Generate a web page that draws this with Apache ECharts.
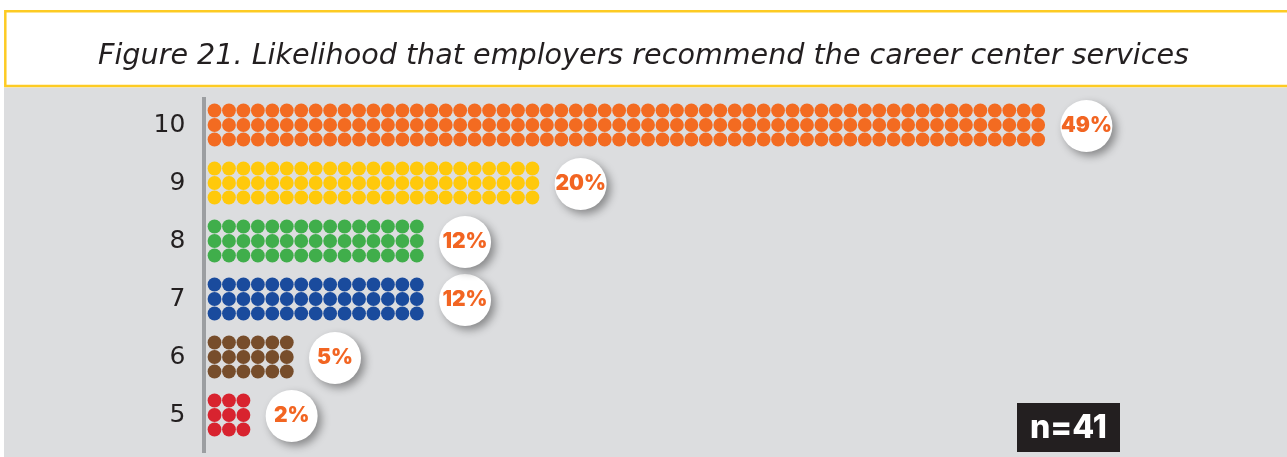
<!DOCTYPE html>
<html><head><meta charset="utf-8">
<script src="https://cdn.jsdelivr.net/npm/echarts@6/dist/echarts.min.js"></script>
<style>html,body{margin:0;padding:0;background:#fff}#c{width:1287px;height:457px}</style>
</head><body><div id="c"></div>
<script>
// ---- data ----
const categories = ['5', '6', '7', '8', '9', '10'];
const dotColumns = [3, 6, 15, 15, 23, 58];
const percents = [2, 5, 12, 12, 20, 49];
const dotColors = ['#d8232f', '#774d2b', '#1a4b9d', '#40ae4b', '#ffc90b', '#f36b21'];
const titleText = 'Figure 21. Likelihood that employers recommend the career center services';
const sampleLabel = 'n=41';
const dotRowOffsets = [-14.5, 0, 14.5];

// ---- chart ----
const chart = echarts.init(document.getElementById('c'), null, { renderer: 'canvas' });
const PITCH = 14.45, DOT = 13.8, XMAX = 70;

const dotSeries = dotRowOffsets.map(off => ({
  type: 'pictorialBar',
  symbol: 'circle',
  symbolSize: DOT,
  symbolRepeat: true,
  symbolMargin: ((PITCH - DOT) / 2) + '!',
  symbolOffset: [0, off],
  barGap: '-100%',
  barWidth: 50,
  silent: true,
  animation: false,
  z: 3,
  data: dotColumns.map((v, k) => ({ value: v, itemStyle: { color: dotColors[k] } }))
}));

const labelSeries = {
  type: 'scatter',
  symbol: 'circle',
  symbolSize: 52,
  symbolOffset: [41, 1],
  silent: true,
  animation: false,
  z: 4,
  itemStyle: { color: '#ffffff', opacity: 1, shadowColor: 'rgba(0,0,0,0.38)', shadowBlur: 9, shadowOffsetX: 4, shadowOffsetY: 4 },
  label: {
    show: true, position: 'inside',
    formatter: p => percents[p.dataIndex] + '%',
    color: '#f26522', fontSize: 21, fontWeight: 900, fontFamily: 'Inter, Lato, sans-serif'
  },
  data: dotColumns.map((v, k) => [v, categories[k]])
};

chart.setOption({
  animation: false,
  backgroundColor: '#ffffff',
  title: {
    text: titleText, left: 'center', top: 37,
    textStyle: { fontStyle: 'italic', fontWeight: 400, fontSize: 28.6, color: '#231f20', fontFamily: '"DejaVu Sans", sans-serif' }
  },
  grid: { left: 207.3, top: 96, width: PITCH * XMAX, height: 348, containLabel: false },
  xAxis: { type: 'value', min: 0, max: XMAX, show: false },
  yAxis: {
    type: 'category', data: categories,
    axisLine: { show: false }, axisTick: { show: false }, splitLine: { show: false },
    axisLabel: { margin: 22, fontSize: 25, color: '#231f20', fontFamily: '"DejaVu Sans", sans-serif', fontWeight: 400 }
  },
  graphic: [
    { type: 'rect', z: -10, shape: { x: 4, y: 87.5, width: 1290, height: 380 }, style: { fill: '#dcdddf' } },
    { type: 'rect', z: -9, shape: { x: 5.3, y: 11.2, width: 1290, height: 74.8 }, style: { fill: '#ffffff', stroke: '#fdcb23', lineWidth: 2.5 } },
    { type: 'line', z: 5, shape: { x1: 204, y1: 97, x2: 204, y2: 453 }, style: { stroke: '#9c9ea1', lineWidth: 4 } },
    { type: 'group', z: 5, children: [
      { type: 'rect', shape: { x: 1017, y: 403, width: 103, height: 49 }, style: { fill: '#231f20' } },
      { type: 'text', x: 1068.5, y: 428, style: { text: sampleLabel, fill: '#ffffff', fontSize: 32, fontWeight: 800, fontFamily: 'Inter, Lato, sans-serif', align: 'center', verticalAlign: 'middle' } }
    ] }
  ],
  series: [...dotSeries, labelSeries]
});
</script>
</body></html>
